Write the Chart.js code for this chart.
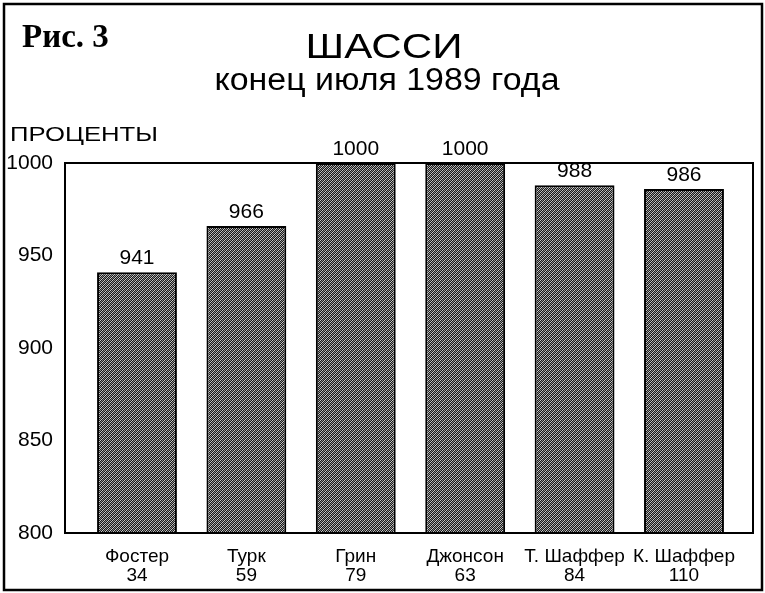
<!DOCTYPE html>
<html>
<head>
<meta charset="utf-8">
<script src="https://cdn.jsdelivr.net/npm/chart.js@4"></script>
<style>
  body { margin: 0; background: #fff; }
  #wrap { width: 765px; height: 593px; position: relative; }
</style>
</head>
<body>
<div id="wrap"><canvas id="grafico" width="765" height="593"></canvas></div>
<script>
const nombres = ['Фостер', 'Турк', 'Грин', 'Джонсон', 'Т. Шаффер', 'К. Шаффер'];
const cantidades = ['34', '59', '79', '63', '84', '110'];
const valores = [941, 966, 1000, 1000, 988, 986];
const yMin = 800;
const yMax = 1000;
const yPaso = 50;

const titulo = 'ШАССИ';
const subtitulo = 'конец июля 1989 года';
const figura = 'Рис. 3';
const tituloEje = 'ПРОЦЕНТЫ';

const FUENTE = '"Liberation Sans", Arial, sans-serif';

// patron rayado de las barras
function crearPatron() {
    const c = document.createElement('canvas');
    c.width = 4;
    c.height = 4;
    const g = c.getContext('2d');
    g.fillStyle = '#8c8c8c';
    g.fillRect(0, 0, 4, 4);
    g.fillStyle = '#1a1a1a';
    for (let i = 0; i < 4; i++) {
        g.fillRect(i, 3 - i, 1, 1);
        g.fillRect((i + 2) % 4, 3 - i, 1, 1);
    }
    g.fillStyle = '#c8c8c8';
    for (let i = 0; i < 4; i++) {
        g.fillRect((i + 1) % 4, 3 - i, 1, 1);
    }
    return g.createPattern(c, 'repeat');
}

function textoEstirado(ctx, texto, x, y, ancho, align) {
    const w = ctx.measureText(texto).width;
    const s = ancho / w;
    ctx.save();
    let x0 = x;
    if (align === 'center') x0 = x - ancho / 2;
    ctx.translate(x0, y);
    ctx.scale(s, 1);
    ctx.textAlign = 'left';
    ctx.fillText(texto, 0, 0);
    ctx.restore();
}

const textosPlugin = {
    id: 'textos',
    afterDraw(chart) {
        const ctx = chart.ctx;
        const area = chart.chartArea;
        ctx.save();
        ctx.fillStyle = '#000';
        ctx.textBaseline = 'alphabetic';

        ctx.font = 'bold 33px "Liberation Serif", "DejaVu Serif", serif';
        ctx.textAlign = 'left';
        ctx.fillText(figura, 22, 47);

        ctx.font = '35px ' + FUENTE;
        textoEstirado(ctx, titulo, 384, 58, 157, 'center');

        ctx.font = '31px ' + FUENTE;
        textoEstirado(ctx, subtitulo, 387, 90, 345, 'center');

        ctx.font = '20px ' + FUENTE;
        textoEstirado(ctx, tituloEje, 10, 141, 148, 'left');

        // marco del area del grafico
        ctx.strokeStyle = '#000';
        ctx.lineWidth = 2;
        ctx.strokeRect(area.left, area.top, area.right - area.left, area.bottom - area.top);

        // marco exterior
        ctx.lineWidth = 2.5;
        ctx.strokeRect(4, 4, 758, 586);
        ctx.restore();
    },
    afterDatasetsDraw(chart) {
        const ctx = chart.ctx;
        const meta = chart.getDatasetMeta(0);
        ctx.save();
        ctx.fillStyle = '#000';
        ctx.font = '21px ' + FUENTE;
        ctx.textAlign = 'center';
        ctx.textBaseline = 'bottom';
        meta.data.forEach((barra, i) => {
            ctx.fillText(String(valores[i]), barra.x, barra.y - 3);
        });
        ctx.restore();
    }
};

const ctx = document.getElementById('grafico').getContext('2d');

new Chart(ctx, {
    type: 'bar',
    data: {
        datasets: [{
            data: valores.map((v, i) => ({ x: i, y: v })),
            backgroundColor: crearPatron(),
            borderColor: '#000',
            borderWidth: 2,
            borderSkipped: false,
            barPercentage: 0.73,
            categoryPercentage: 1
        }]
    },
    options: {
        responsive: false,
        animation: false,
        events: [],
        layout: {
            padding: { top: 163, right: 12, left: 0, bottom: 0 }
        },
        plugins: {
            legend: { display: false },
            tooltip: { enabled: false }
        },
        scales: {
            x: {
                type: 'linear',
                min: -0.658,
                max: 5.631,
                offset: false,
                grid: { display: false },
                border: { display: false },
                afterBuildTicks: axis => {
                    axis.ticks = nombres.map((n, i) => ({ value: i }));
                },
                afterFit: axis => { axis.height = 60; },
                ticks: {
                    autoSkip: false,
                    maxRotation: 0,
                    padding: 6,
                    color: '#000',
                    font: { family: FUENTE, size: 19, lineHeight: 1.0 },
                    callback: v => [nombres[v], cantidades[v]]
                }
            },
            y: {
                min: yMin,
                max: yMax,
                grid: { display: false },
                border: { display: false },
                afterFit: axis => { axis.width = 65; },
                ticks: {
                    stepSize: yPaso,
                    padding: 4,
                    color: '#000',
                    font: { family: FUENTE, size: 21 },
                    callback: v => String(v)
                }
            }
        }
    },
    plugins: [textosPlugin]
});
</script>
</body>
</html>
